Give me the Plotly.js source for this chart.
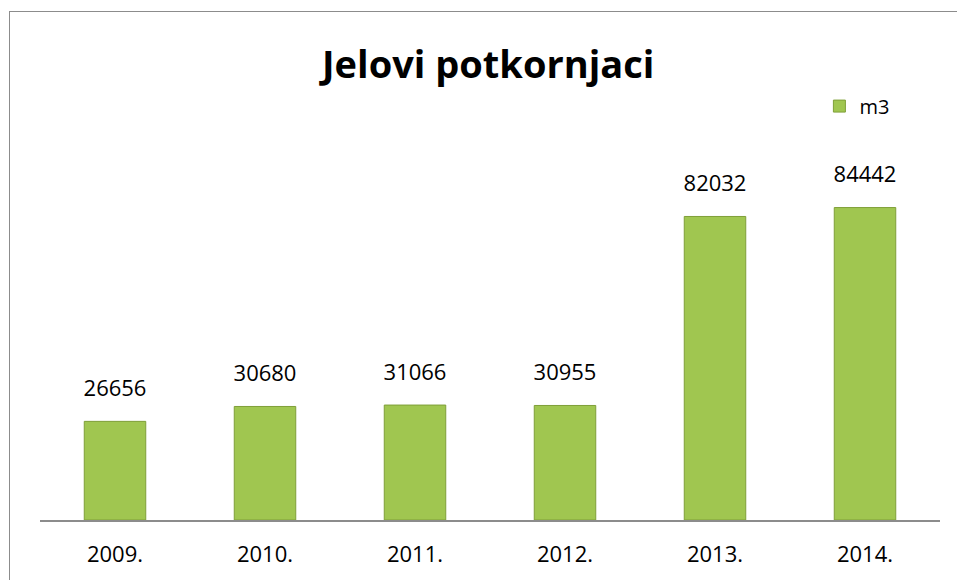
<!DOCTYPE html>
<html>
<head>
<meta charset="utf-8">
<script src="https://cdn.plot.ly/plotly-3.0.1.min.js"></script>
<style>
html,body{margin:0;padding:0;background:#fff;overflow:hidden;}
#chart{width:957px;height:580px;position:absolute;left:0;top:0;}
#frame{position:absolute;left:9px;top:11px;width:1200px;height:1200px;border:1px solid #8c8c8c;pointer-events:none;}
</style>
</head>
<body>
<div id="chart"></div>
<div id="frame"></div>
<script>
const years = ['2009.', '2010.', '2011.', '2012.', '2013.', '2014.'];
const volumes = [26656, 30680, 31066, 30955, 82032, 84442];
const seriesName = 'm3';
const chartTitle = 'Jelovi potkornjaci';

const FONT = 'Open Sans, sans-serif';

const bars = {
  type: 'bar',
  x: years,
  y: volumes,
  name: seriesName,
  width: 0.41,
  marker: {color: '#a0c650', line: {color: '#7f9f38', width: 1}},
  hoverinfo: 'skip'
};

const labels = {
  type: 'scatter',
  mode: 'markers+text',
  x: years,
  y: volumes,
  text: volumes.map(v => String(v)),
  textposition: 'top center',
  textfont: {family: FONT, size: 22, color: '#000'},
  marker: {size: 30, opacity: 0},
  showlegend: false,
  hoverinfo: 'skip',
  cliponaxis: false
};

const layout = {
  width: 957,
  height: 580,
  margin: {l: 40, r: 17, t: 187, b: 60},
  paper_bgcolor: '#fff',
  plot_bgcolor: '#fff',
  font: {family: FONT, color: '#000'},
  title: {
    text: '<b>' + chartTitle + '</b>',
    font: {family: FONT, size: 38, color: '#000'},
    x: 0.498, xanchor: 'center',
    y: 1 - 65/580, yanchor: 'middle',
    xref: 'paper', yref: 'container'
  },
  showlegend: true,
  legend: {
    x: 0.866, xanchor: 'left',
    y: 1.243, yanchor: 'middle',
    font: {family: FONT, size: 20, color: '#000'},
    bgcolor: 'rgba(0,0,0,0)',
    itemwidth: 30
  },
  xaxis: {
    type: 'category',
    showline: true,
    linecolor: '#8c8c8c',
    linewidth: 2,
    ticks: '',
    ticklabelstandoff: 14,
    tickfont: {family: FONT, size: 22, color: '#000'},
    showgrid: false,
    zeroline: false
  },
  yaxis: {
    range: [0, 90000],
    visible: false,
    showgrid: false,
    zeroline: false
  },
  bargap: 0.59
};

Plotly.newPlot('chart', [bars, labels], layout, {displayModeBar: false, staticPlot: true});
</script>
</body>
</html>
